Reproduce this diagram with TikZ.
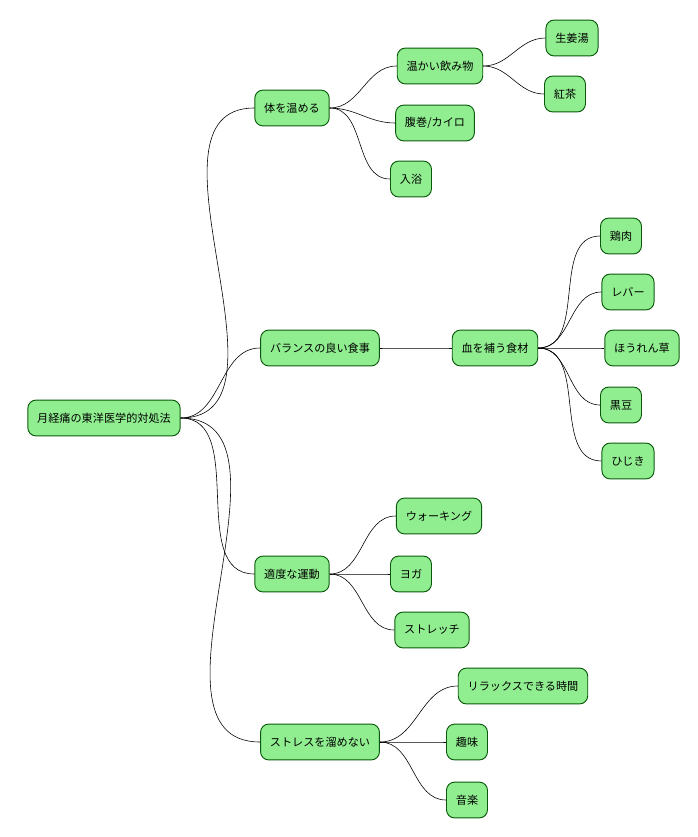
\documentclass[tikz,border=0pt]{standalone}
\usepackage{fontspec}
\setmainfont{Noto Sans CJK JP}
\usetikzlibrary{arrows}

\definecolor{boxfill}{HTML}{90EE90}
\definecolor{boxline}{HTML}{0B5A0B}

\tikzset{
	topic/.style={draw=boxline, fill=boxfill, line width=0.8pt, rounded corners=7pt,
		minimum height=30.6pt, inner xsep=8pt, font=\fontsize{9.5}{11}\selectfont},
	branch/.style={draw=black, line width=0.5pt, out=0, in=180}
}

\begin{document}
\begin{tikzpicture}[x=0.03cm,y=-0.03cm]
	\useasboundingbox (0,0) rectangle (698,837);
	\node[topic] (root) at (104,418) {月経痛の東洋医学的対処法};

	\node[topic] (warm) at (292,108) {体を温める};
	\node[topic] (food) at (320,348) {バランスの良い食事};
	\node[topic] (move) at (292,574) {適度な運動};
	\node[topic] (stress) at (320,742) {ストレスを溜めない};

	\node[topic] (drink) at (440,66) {温かい飲み物};
	\node[topic] (kairo) at (435,123) {腹巻/カイロ};
	\node[topic] (bath) at (411,179) {入浴};
	\node[topic] (blood) at (495,348) {血を補う食材};
	\node[topic] (walk) at (439,516) {ウォーキング};
	\node[topic] (yoga) at (411,574) {ヨガ};
	\node[topic] (stretch) at (432,630) {ストレッチ};
	\node[topic] (relax) at (523,686) {リラックスできる時間};
	\node[topic] (hobby) at (467,742) {趣味};
	\node[topic] (music) at (467,800) {音楽};

	\node[topic] (ginger) at (572,38) {生姜湯};
	\node[topic] (tea) at (565,94) {紅茶};
	\node[topic] (chicken) at (621,236) {鶏肉};
	\node[topic] (liver) at (628,292) {レバー};
	\node[topic] (spinach) at (642,348) {ほうれん草};
	\node[topic] (beans) at (621,405) {黒豆};
	\node[topic] (hijiki) at (628,461) {ひじき};

	\foreach \a/\b in {root/warm,root/food,root/move,root/stress,
		warm/drink,warm/kairo,warm/bath,food/blood,
		move/walk,move/yoga,move/stretch,
		stress/relax,stress/hobby,stress/music,
		drink/ginger,drink/tea,
		blood/chicken,blood/liver,blood/spinach,blood/beans,blood/hijiki}
		\draw[branch] (\a.east) to (\b.west);
\end{tikzpicture}
\end{document}
